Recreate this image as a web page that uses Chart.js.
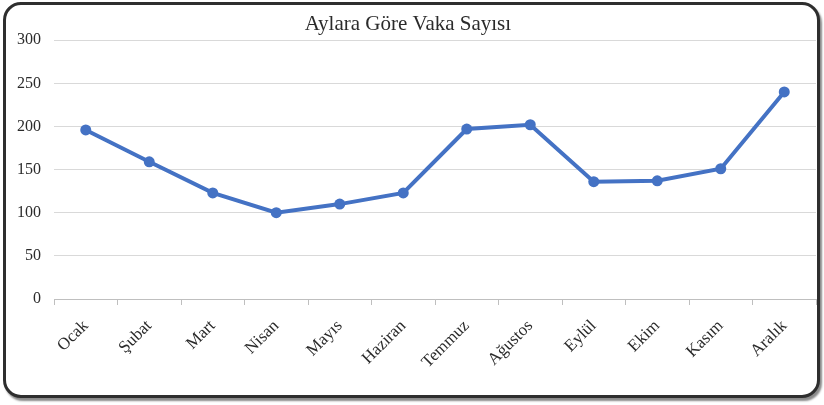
<!DOCTYPE html>
<html>
<head>
<meta charset="utf-8">
<script src="https://cdn.jsdelivr.net/npm/chart.js@4/dist/chart.umd.min.js"></script>
<style>
  html, body { margin: 0; padding: 0; background: #fff; }
  #frame {
    position: absolute; left: 3px; top: 2px; width: 811px; height: 390px;
    border: 3px solid #2e2e2e; border-radius: 18px;
    box-shadow: 2px 3px 2px #8a8a8a;
    background: #fff;
  }
  #wrap { position: absolute; left: 0; top: 0; width: 824px; height: 405px; }
</style>
</head>
<body>
<div id="frame"></div>
<div id="wrap"><canvas id="lineChart" width="824" height="405"></canvas></div>
<script>
const months = ['Ocak', 'Şubat', 'Mart', 'Nisan', 'Mayıs', 'Haziran',
                'Temmuz', 'Ağustos', 'Eylül', 'Ekim', 'Kasım', 'Aralık'];
const caseCounts = [196, 159, 123, 100, 110, 123, 197, 202, 136, 137, 151, 240];
const yTicks = [0, 50, 100, 150, 200, 250, 300];

const serif = "'Liberation Serif', 'Times New Roman', serif";
const textColor = '#2b2b2b';
const blue = '#4472C4';

const config = {
    type: 'line',
    data: {
        labels: months,
        datasets: [{
            label: 'Vaka Sayısı',
            data: caseCounts,
            borderColor: blue,
            backgroundColor: blue,
            borderWidth: 4,
            pointRadius: 5.5,
            pointBorderWidth: 0,
            tension: 0
        }]
    },
    options: {
        responsive: false,
        animation: false,
        layout: { padding: { left: 0, right: 8, top: 0, bottom: 6 } },
        plugins: {
            legend: { display: false },
            tooltip: { enabled: false },
            title: {
                display: true,
                text: 'Aylara Göre Vaka Sayısı',
                color: textColor,
                font: { family: serif, size: 21, weight: 'normal' },
                padding: { top: 12, bottom: 3 }
            }
        },
        scales: {
            x: {
                offset: true,
                grid: {
                    offset: true,
                    drawOnChartArea: false,
                    drawTicks: true,
                    tickLength: 6,
                    color: '#bfbfbf'
                },
                border: { display: true, color: '#bfbfbf', width: 1 },
                ticks: {
                    color: textColor,
                    font: { family: serif, size: 17 },
                    minRotation: 45,
                    maxRotation: 45,
                    padding: 11
                },
                afterFit: (scale) => { scale.height = 100; }
            },
            y: {
                min: 0,
                max: 300,
                afterBuildTicks: (scale) => {
                    scale.ticks = yTicks.map(v => ({ value: v }));
                },
                grid: { color: '#d9d9d9', drawTicks: false },
                border: { display: false },
                ticks: {
                    color: textColor,
                    font: { family: serif, size: 16 },
                    padding: 13
                },
                afterFit: (scale) => { scale.width = 54; }
            }
        }
    }
};

new Chart(document.getElementById('lineChart').getContext('2d'), config);
</script>
</body>
</html>
